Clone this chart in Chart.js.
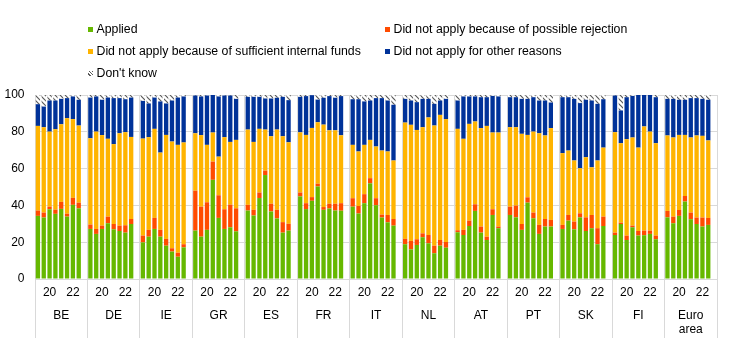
<!DOCTYPE html>
<html><head><meta charset="utf-8">
<script src="https://cdn.jsdelivr.net/npm/chart.js@4.4.1/dist/chart.umd.min.js"></script>
<style>
html,body{margin:0;padding:0;background:#fff;}
#wrap{position:relative;width:744px;height:348px;overflow:hidden;}
#c{position:absolute;left:0;top:0;}
#legend{position:absolute;left:88px;top:18px;display:grid;grid-template-columns:297px auto;grid-auto-rows:22px;font:12.3px "Liberation Sans",Arial,sans-serif;color:#000;}
.item{display:flex;align-items:center;white-space:nowrap;height:22px;}
.box{width:5px;height:5px;margin-right:3.5px;flex:none;}
</style></head><body>
<div id="wrap"><canvas id="c" width="744" height="348" style="width:744px;height:348px"></canvas><div id="legend"></div></div>
<script>
// ---- data (percentages of firms), 8 survey rounds per country ----
const countries = ['BE','DE','IE','GR','ES','FR','IT','NL','AT','PT','SK','FI','Euro area'];
// tick labels per group: 8 rounds + 1 spacer slot
const periodTicks = ['', '', '20', '', '', '', '22', '', ''];

const applied = [
  [34.3,33.4,37.9,35.4,38.1,33.9,40.3,38.4],
  [27.2,24.5,27.2,30.3,27.0,26.1,25.2,29.9],
  [19.9,23.0,27.2,23.0,18.1,14.9,12.1,17.2],
  [26.3,23.0,26.7,53.9,33.2,27.2,28.1,25.9],
  [37.2,34.5,44.0,56.5,36.7,32.9,25.2,26.3],
  [44.9,38.0,42.5,50.3,37.6,38.3,37.2,37.1],
  [39.3,35.6,41.2,52.0,40.1,33.4,30.8,29.0],
  [18.9,16.1,18.5,22.7,19.4,14.0,18.1,17.0],
  [25.4,23.9,28.8,37.0,25.2,21.2,34.8,27.6],
  [34.8,33.5,26.7,41.5,33.0,24.5,28.5,28.5],
  [27.2,31.7,27.0,33.5,26.1,27.6,18.9,28.8],
  [23.9,29.9,21.2,28.1,23.6,23.8,24.5,21.6],
  [33.5,30.3,34.3,42.1,32.5,29.9,28.5,29.4]
];
const rejection = [
  [2.9,2.7,1.4,2.3,3.8,1.6,3.8,3.1],
  [2.4,2.7,1.8,3.6,2.9,2.9,4.0,2.7],
  [3.7,3.7,6.0,3.7,3.7,1.8,2.2,1.7],
  [21.7,16.3,15.0,9.9,12.3,10.7,12.3,12.5],
  [3.1,3.1,3.0,2.4,4.2,4.7,5.7,3.7],
  [2.1,3.2,2.0,1.5,1.5,2.6,3.7,4.1],
  [4.6,4.1,4.9,2.8,3.8,1.6,4.0,3.6],
  [2.9,4.6,3.1,2.1,4.5,4.1,3.1,3.1],
  [1.1,2.8,2.9,3.6,3.3,1.8,3.1,0.9],
  [4.5,6.4,3.2,2.9,3.1,4.9,4.1,3.6],
  [2.2,3.1,4.2,2.2,7.4,7.2,8.7,5.1],
  [1.3,0.7,2.4,0.9,2.5,2.5,1.8,2.0],
  [3.5,3.6,3.2,3.0,3.6,3.5,4.9,3.8]
];
const internalFunds = [
  [46.0,46.4,40.8,43.7,42.2,51.9,42.8,41.9],
  [46.9,52.9,49.2,42.3,43.4,50.2,50.6,44.6],
  [52.7,50.4,48.4,42.0,56.5,58.0,58.6,55.3],
  [31.2,38.9,31.2,15.8,21.0,39.2,34.1,37.2],
  [40.9,36.9,34.6,22.3,36.7,43.6,46.7,44.3],
  [32.7,37.1,37.6,33.4,44.8,39.9,39.9,36.9],
  [29.0,29.6,26.8,20.8,28.1,34.8,34.5,31.8],
  [63.2,63.1,59.4,57.7,63.9,65.3,68.0,66.8],
  [55.1,49.5,52.6,45.0,53.5,60.2,41.7,51.1],
  [43.2,42.6,49.0,33.9,44.0,49.8,45.4,49.9],
  [39.0,35.0,33.2,24.5,32.7,25.9,36.8,37.5],
  [54.6,43.2,52.4,47.9,45.3,56.6,53.8,50.2],
  [41.0,43.0,40.8,33.2,40.8,44.6,44.4,42.1]
];
const otherReasons = [
  [11.8,11.2,16.9,15.6,13.8,10.9,12.3,14.0],
  [22.1,19.1,19.2,22.4,25.0,19.1,17.9,21.4],
  [20.5,18.3,17.0,27.8,17.1,22.3,25.7,25.0],
  [20.5,21.0,26.8,20.4,32.7,22.6,25.2,22.3],
  [17.8,24.5,17.4,16.9,20.5,17.3,21.4,22.9],
  [19.3,21.1,17.8,12.3,14.6,18.6,17.7,21.3],
  [24.8,28.4,23.6,21.4,26.3,28.5,27.7,30.3],
  [12.9,13.2,15.1,15.4,10.1,11.8,7.8,11.0],
  [15.4,23.0,14.9,13.6,16.8,15.6,19.9,19.6],
  [16.3,16.3,19.0,19.6,18.7,17.8,19.0,13.9],
  [30.4,29.0,33.5,35.4,31.2,36.3,30.8,26.3],
  [19.9,17.8,22.8,22.6,28.6,17.1,19.9,25.0],
  [19.9,21.0,19.1,19.1,21.4,20.3,20.1,22.1]
];
const dontKnow = [
  [5.0,6.3,3.0,3.0,2.1,1.7,0.8,2.6],
  [1.4,0.8,2.6,1.4,1.7,1.7,2.3,1.4],
  [3.2,4.6,1.4,3.5,4.6,3.0,1.4,0.8],
  [0.3,0.8,0.3,0.0,0.8,0.3,0.3,2.1],
  [1.0,1.0,1.0,1.9,1.9,1.5,1.0,2.8],
  [1.0,0.6,0.1,2.5,1.5,0.6,1.5,0.6],
  [2.3,2.3,3.5,3.0,1.7,1.7,3.0,5.3],
  [2.1,3.0,3.9,2.1,2.1,4.8,3.0,2.1],
  [3.0,0.8,0.8,0.8,1.2,1.2,0.5,0.8],
  [1.2,1.2,2.1,2.1,1.2,3.0,3.0,4.1],
  [1.2,1.2,2.1,4.4,2.6,3.0,4.8,2.3],
  [0.3,8.4,1.2,0.5,0.0,0.0,0.0,1.2],
  [2.1,2.1,2.6,2.6,1.7,1.7,2.1,2.6]
];
const seriesNames = ['Applied','Did not apply because of possible rejection','Did not apply because of sufficient internal funds','Did not apply for other reasons',"Don't know"];
const seriesColors = ['#66b800','#ff4b00','#ffb400','#003299'];

// ---- build category slots (8 rounds + 1 spacer per country) ----
const SLOTS = periodTicks.length;
const labels = [];
countries.forEach(c => periodTicks.forEach((t, i) => labels.push(c + ' ' + i)));
function flat(series) {
  const out = [];
  series.forEach(g => { out.push(...g); while (out.length % SLOTS) out.push(null); });
  return out;
}

function hatchPattern() {
  const s = 5, c = document.createElement('canvas');
  c.width = s; c.height = s;
  const g = c.getContext('2d');
  g.fillStyle = '#ffffff'; g.fillRect(0, 0, s, s);
  g.strokeStyle = '#5a5a5a'; g.lineWidth = 1.2;
  g.beginPath();
  g.moveTo(-1, -1); g.lineTo(s + 1, s + 1);
  g.moveTo(s - 1, -1); g.lineTo(s + 1, 1);
  g.moveTo(-1, s - 1); g.lineTo(1, s + 1);
  g.stroke();
  return document.createElement('canvas').getContext('2d').createPattern(c, 'repeat');
}

Chart.defaults.font.family = '"Liberation Sans", Arial, sans-serif';
Chart.defaults.font.size = 12;
Chart.defaults.color = '#000';

const sep = '#d9d9d9';
const allSeries = [applied, rejection, internalFunds, otherReasons, dontKnow];
const datasets = allSeries.map((s, i) => ({
  label: seriesNames[i],
  data: flat(s),
  backgroundColor: i < 4 ? seriesColors[i] : hatchPattern(),
  borderWidth: 0,
  barPercentage: 0.74,
  categoryPercentage: 1.0
}));

const chart = new Chart(document.getElementById('c'), {
  type: 'bar',
  data: { labels, datasets },
  options: {
    responsive: false,
    animation: false,
    layout: { padding: { top: 95, right: 27, left: 0, bottom: 0 } },
    plugins: { legend: { display: false }, tooltip: { enabled: false } },
    scales: {
      x: {
        type: 'category', position: 'bottom', stacked: true, offset: true, weight: 0,
        grid: {
          offset: true, drawTicks: true, tickLength: 59, lineWidth: 1,
          color: ctx => (ctx.index === undefined || ctx.index % SLOTS === 0) ? sep : 'rgba(0,0,0,0)'
        },
        border: { display: false },
        ticks: {
          autoSkip: false, maxRotation: 0, minRotation: 0, padding: -53,
          callback: (v, i) => periodTicks[i % SLOTS]
        },
        afterFit: s => { s.height = 23; }
      },
      x2: {
        type: 'category', position: 'bottom', offset: true, weight: 1,
        grid: { display: false, drawTicks: false },
        border: { display: false },
        ticks: {
          autoSkip: false, maxRotation: 0, minRotation: 0, padding: 6.5,
          callback: (v, i) => (i % SLOTS === 4) ? countries[Math.floor(i / SLOTS)].split(' ') : ''
        },
        afterFit: s => { s.height = 46; }
      },
      y: {
        stacked: true, min: 0, max: 100,
        grid: { color: sep, drawTicks: false },
        border: { display: false },
        ticks: { stepSize: 20, padding: 10.5 },
        afterFit: s => { s.width = 35; }
      }
    }
  }
});

// ---- HTML legend built from the chart's datasets ----
const legend = document.getElementById('legend');
chart.data.datasets.forEach((d, i) => {
  const it = document.createElement('div'); it.className = 'item';
  const b = document.createElement('span'); b.className = 'box';
  if (i < 4) b.style.background = d.backgroundColor;
  else b.style.background = 'repeating-linear-gradient(45deg,#fff 0 1.2px,#5a5a5a 1.2px 2.4px)';
  const t = document.createElement('span'); t.textContent = d.label;
  it.appendChild(b); it.appendChild(t); legend.appendChild(it);
});
</script>
</body></html>
